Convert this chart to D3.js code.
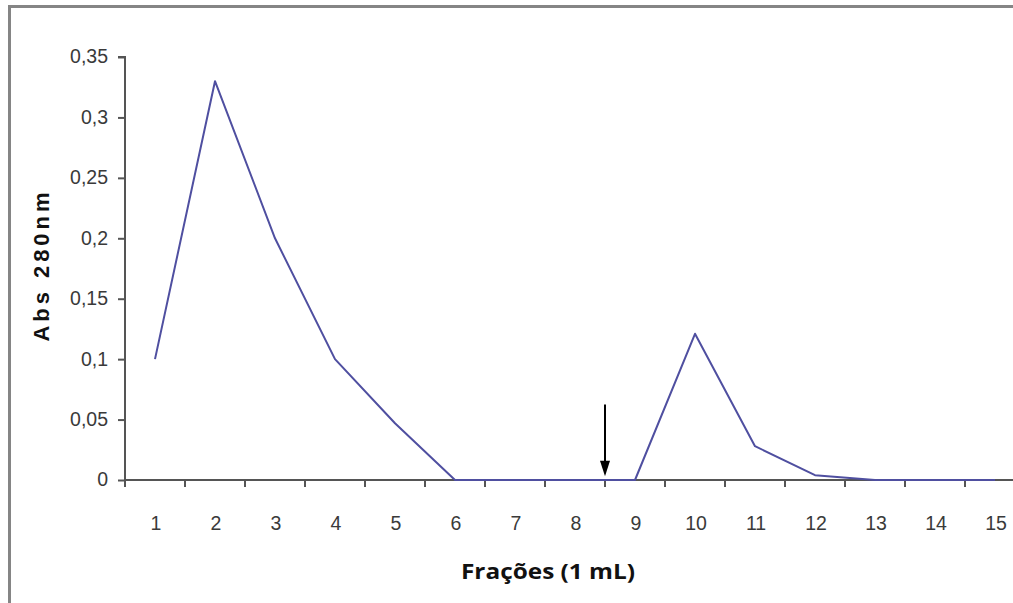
<!DOCTYPE html>
<html>
<head>
<meta charset="utf-8">
<script src="https://cdn.jsdelivr.net/npm/d3@7"></script>
<style>
  html, body { margin: 0; padding: 0; background: #fff; }
  svg { display: block; }
</style>
</head>
<body>
<svg id="chart" width="1013" height="603"></svg>
<script>
const fractions = ["1","2","3","4","5","6","7","8","9","10","11","12","13","14","15"];
const absValues = [0.1, 0.33, 0.2, 0.1, 0.047, 0, 0, 0, 0, 0.121, 0.028, 0.004, 0, 0, 0];
const yTicks = [0, 0.05, 0.1, 0.15, 0.2, 0.25, 0.3, 0.35];
const yTickLabels = ["0", "0,05", "0,1", "0,15", "0,2", "0,25", "0,3", "0,35"];
const arrowAfter = "8"; // arrow drawn at boundary between fractions 8 and 9
const xTitle = "Frações (1 mL)";
const yTitle = "Abs 280nm";

const svg = d3.select("#chart");
const W = 1013, H = 603;

// outer frame
svg.append("rect")
  .attr("x", 9.5).attr("y", 6.5)
  .attr("width", 1030).attr("height", 620)
  .attr("fill", "none").attr("stroke", "#858585").attr("stroke-width", 3);

const x0 = 125, xEnd = 1025, yTop = 57, yBot = 480;
const x = d3.scaleBand().domain(fractions).range([x0, xEnd]).paddingInner(0).paddingOuter(0);
const y = d3.scaleLinear().domain([0, 0.35]).range([yBot, yTop]);

const tickFont = "'Liberation Sans', Arial, sans-serif";

// y axis
const yAxis = d3.axisLeft(y).tickValues(yTicks)
  .tickFormat((d, i) => yTickLabels[i]).tickSize(7).tickPadding(10);
const gy = svg.append("g").attr("transform", `translate(${x0},0)`).call(yAxis);
gy.select(".domain").attr("stroke", "#555").attr("stroke-width", 2).attr("d", `M-7,${yTop}H0V${yBot}`);
gy.selectAll(".tick line").attr("stroke", "#555").attr("stroke-width", 2);
gy.selectAll(".tick text").attr("fill", "#3a3a3a").attr("dy", "0.3em")
  .style("font-family", tickFont).style("font-size", "19.5px");

// x axis: tick marks at category boundaries, labels centered
const gx = svg.append("g").attr("transform", `translate(0,${yBot})`);
gx.append("line").attr("x1", x0).attr("x2", W).attr("y1", 0).attr("y2", 0)
  .attr("stroke", "#555").attr("stroke-width", 2);
gx.selectAll("line.tk").data(fractions).enter().append("line").attr("class", "tk")
  .attr("x1", d => x(d)).attr("x2", d => x(d)).attr("y1", 0).attr("y2", 7)
  .attr("stroke", "#555").attr("stroke-width", 2);
gx.selectAll("text.lbl").data(fractions).enter().append("text").attr("class", "lbl")
  .attr("x", d => x(d) + x.bandwidth() / 2 + 1).attr("y", 50)
  .attr("text-anchor", "middle").attr("fill", "#3a3a3a")
  .style("font-family", tickFont).style("font-size", "19.5px")
  .text(d => d);

// line
const line = d3.line()
  .x((d, i) => x(fractions[i]) + x.bandwidth() / 2)
  .y(d => y(d));
svg.append("path").datum(absValues)
  .attr("d", line)
  .attr("fill", "none").attr("stroke", "#4f4fa0").attr("stroke-width", 2)
  .attr("stroke-linejoin", "round");

// arrow annotation
const ax = x(arrowAfter) + x.bandwidth();
svg.append("line").attr("x1", ax).attr("x2", ax).attr("y1", y(0.0625)).attr("y2", y(0.013))
  .attr("stroke", "#000").attr("stroke-width", 2);
svg.append("path")
  .attr("d", `M${ax - 5},${y(0.016)}L${ax + 5},${y(0.016)}L${ax},${y(0.003)}Z`)
  .attr("fill", "#000");

// titles
svg.append("text").attr("x", 548).attr("y", 579).attr("text-anchor", "middle")
  .attr("fill", "#111").style("font-family", "'Open Sans', Lato, sans-serif")
  .style("font-weight", "bold").style("font-size", "21px")
  .attr("textLength", 174).attr("lengthAdjust", "spacingAndGlyphs")
  .text(xTitle);
svg.append("text").attr("transform", "translate(49,267) rotate(-90)").attr("text-anchor", "middle")
  .attr("fill", "#111").style("font-family", "'Liberation Sans', Arial, sans-serif")
  .style("font-weight", "bold").style("font-size", "22px")
  .attr("textLength", 149).attr("lengthAdjust", "spacing")
  .text(yTitle);
</script>
</body>
</html>
